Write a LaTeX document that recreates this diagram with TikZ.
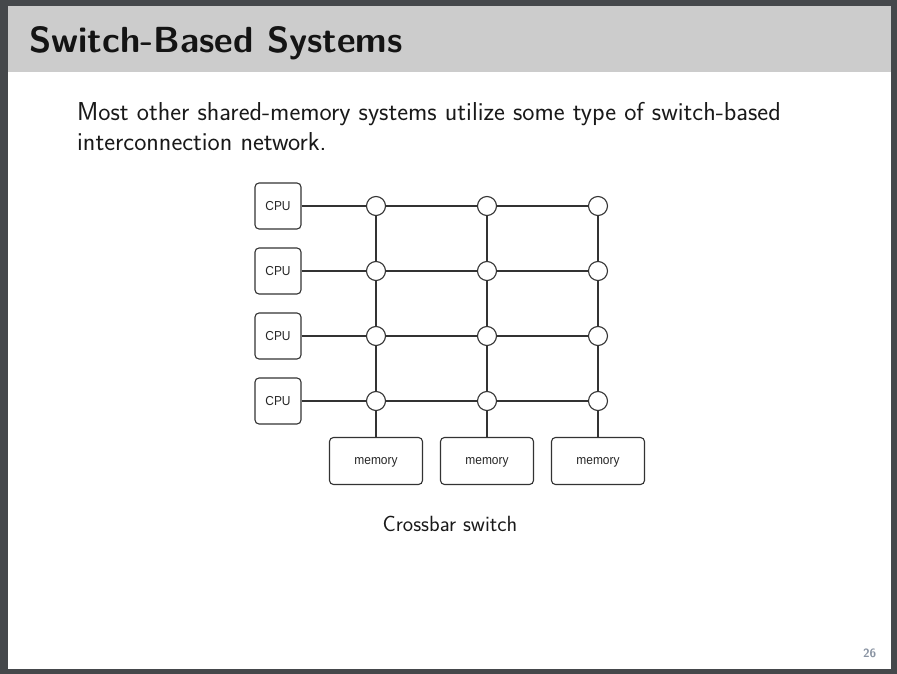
\documentclass[tikz,border=0pt]{standalone}
\usepackage{fontspec}
\newfontfamily\arialf[FakeStretch=0.92]{Liberation Sans}
\definecolor{framegray}{HTML}{45484B}
\definecolor{headgray}{HTML}{CCCCCC}
\definecolor{linegray}{HTML}{333333}
\definecolor{pagenum}{HTML}{8A94A3}
\begin{document}
\begin{tikzpicture}[x=1pt,y=-1pt,
  box/.style={draw=linegray, line width=1.1pt, rounded corners=4pt, font=\arialf\fontsize{13}{15}\selectfont, text=black!85, inner sep=0pt},
  cpubox/.style={box, minimum width=46pt, minimum height=46pt, text height=9.3pt, text depth=0pt},
  membox/.style={box, minimum width=93pt, minimum height=47pt, text height=6.8pt, text depth=0pt},
  xnode/.style={circle, draw=linegray, line width=1.1pt, fill=white, minimum size=19pt, inner sep=0pt},
  wire/.style={draw=linegray, line width=1.1pt},
  bodytext/.style={anchor=base west, inner sep=0pt, text=black!90, font=\sffamily\fontsize{25.9}{29}\selectfont}]
\useasboundingbox (0,0) rectangle (897,674);
\fill[framegray] (0,0) rectangle (897,674);
\fill[white] (8,6) rectangle (891,669);
\fill[headgray] (8,6) rectangle (891,72);
\node[anchor=base west, inner sep=0pt, text=black!92, font=\sffamily\bfseries\fontsize{36.3}{42}\selectfont] (title) at (29,52.5) {Switch-Based Systems};
\node[bodytext] (body1) at (77,121) {Most other shared-memory systems utilize some type of switch-based};
\node[bodytext] (body2) at (77,150) {interconnection network.};
% CPUs
\foreach \i/\y in {1/206,2/271,3/336,4/401}{
  \node[cpubox] (cpu\i) at (278,\y) {CPU};
  \foreach \j/\x in {1/376,2/487,3/598}{
    \node[xnode] (x\i\j) at (\x,\y) {};
  }
}
\foreach \j/\x in {1/376,2/487,3/598}{
  \node[membox] (mem\j) at (\x,461) {memory};
}
\foreach \i in {1,2,3,4}{
  \draw[wire] (cpu\i) -- (x\i1);
  \draw[wire] (x\i1) -- (x\i2);
  \draw[wire] (x\i2) -- (x\i3);
}
\foreach \j in {1,2,3}{
  \draw[wire] (x1\j) -- (x2\j);
  \draw[wire] (x2\j) -- (x3\j);
  \draw[wire] (x3\j) -- (x4\j);
  \draw[wire] (x4\j) -- (mem\j);
}
\node[anchor=base, inner sep=0pt, text=black!90, font=\sffamily\fontsize{22}{26}\selectfont] (cap) at (450,531) {Crossbar switch};
\node[anchor=base east, inner sep=0pt, text=pagenum, font=\sffamily\bfseries\fontsize{12}{14}\selectfont] (pg) at (876.5,657) {26};
\end{tikzpicture}
\end{document}
